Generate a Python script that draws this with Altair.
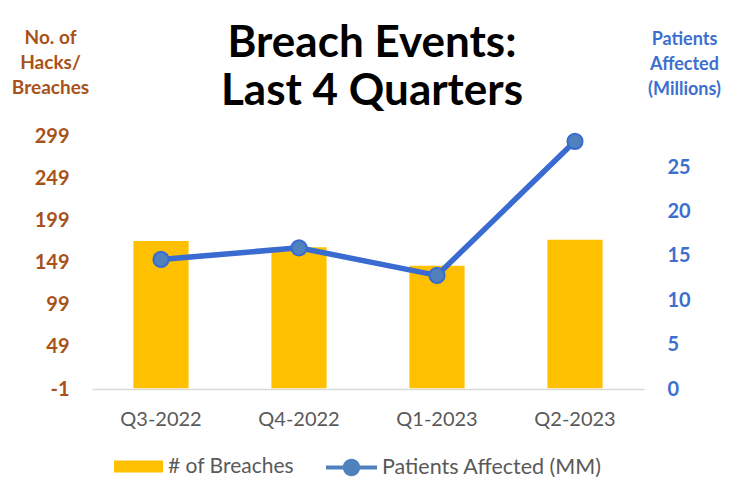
import altair as alt
import pandas as pd

quarters = ["Q3-2022", "Q4-2022", "Q1-2023", "Q2-2023"]
breaches = [174.5, 167, 145, 176]
patients_mm = [14.6, 15.9, 12.8, 27.9]

left_ticks = [-1, 49, 99, 149, 199, 249, 299]
right_ticks = [0, 5, 10, 15, 20, 25]

df = pd.DataFrame({"quarter": quarters, "breaches": breaches, "patients": patients_mm})

FONT = "Lato"
BROWN = "#A8521A"
BLUE_TXT = "#3D6FCF"
LINE_BLUE = "#3A6BD0"
POINT_FILL = "#4F81BD"
GOLD = "#FFC000"
GRAY = "#595959"

x_enc = alt.X(
    "quarter:N",
    sort=quarters,
    scale=alt.Scale(paddingInner=0, paddingOuter=0),
    axis=alt.Axis(
        title=None, labelAngle=0, labelFont=FONT, labelFontSize=20, labelColor=GRAY,
        labelPadding=20, ticks=False, domainColor="#D9D9D9", domainWidth=1.5,
    ),
)

bar_rect = "M-1,-0.245H1V0.245H-1Z"
line_sym = ("M-1,-0.08H1V0.08H-1Z "
            "M0.34,0A0.34,0.34 0 1 1 -0.34,0A0.34,0.34 0 1 1 0.34,0Z")

bars = alt.Chart(df).mark_bar(width=alt.RelativeBandSize(0.4)).encode(
    x=x_enc,
    y=alt.Y(
        "breaches:Q",
        scale=alt.Scale(domain=[-1, 299], nice=False, zero=False),
        axis=alt.Axis(
            values=left_ticks, labelExpr="'' + datum.value", grid=False, domain=False, ticks=False,
            labelFont=FONT, labelFontSize=20, labelFontWeight="bold", labelColor=BROWN,
            labelPadding=23,
            title=["No. of", "Hacks/", "Breaches"], titleAngle=0, titleAlign="center",
            titleBaseline="alphabetic", titleX=-42, titleY=-93, titleLineHeight=25,
            titleFont=FONT, titleFontSize=19, titleFontWeight="bold", titleColor=BROWN,
        ),
    ),
    fill=alt.Fill(
        "series:N",
        scale=alt.Scale(domain=["# of Breaches"], range=[GOLD]),
        legend=alt.Legend(
            title=None, orient="none", legendX=22, legendY=306,
            symbolType=bar_rect, symbolSize=2401, symbolStrokeWidth=0, symbolOpacity=1,
            labelFont=FONT, labelFontSize=21, labelColor=GRAY, labelOffset=5, labelLimit=400,
        ),
    ),
).transform_calculate(series="'# of Breaches'")

line = alt.Chart(df).mark_line(
    strokeWidth=5.5,
    point=alt.OverlayMarkDef(filled=True, fill=POINT_FILL, stroke=LINE_BLUE, strokeWidth=2, size=230, opacity=1),
).encode(
    x=x_enc,
    y=alt.Y(
        "patients:Q",
        scale=alt.Scale(domain=[0, 28.5], nice=False, zero=False),
        axis=alt.Axis(
            orient="right", values=right_ticks, grid=False, domain=False, ticks=False,
            labelFont=FONT, labelFontSize=20, labelFontWeight="bold", labelColor=BLUE_TXT,
            labelPadding=23,
            title=["Patients", "Affected", "(Millions)"], titleAngle=0, titleAlign="center",
            titleBaseline="alphabetic", titleX=40, titleY=-92, titleLineHeight=25,
            titleFont=FONT, titleFontSize=18, titleFontWeight="bold", titleColor=BLUE_TXT,
        ),
    ),
    stroke=alt.Stroke(
        "series2:N",
        scale=alt.Scale(domain=["Patients Affected (MM)"], range=[LINE_BLUE]),
        legend=alt.Legend(
            title=None, orient="none", legendX=234, legendY=306,
            symbolType=line_sym, symbolSize=2601, symbolStrokeWidth=0,
            symbolFillColor=LINE_BLUE, symbolOpacity=1,
            labelFont=FONT, labelFontSize=21.5, labelColor=GRAY, labelOffset=5, labelLimit=400,
        ),
    ),
).transform_calculate(series2="'Patients Affected (MM)'")

chart = alt.layer(bars, line).resolve_scale(y="independent").properties(
    width=552,
    height=253,
    title=alt.Title(
        ["Breach Events:", "Last 4 Quarters"], font=FONT, fontSize=44, fontWeight="bold",
        color="black", anchor="middle", frame="group", lineHeight=48, dx=4, dy=96, offset=10,
    ),
    autosize=alt.AutoSizeParams(type="none"),
    padding={"left": 84, "top": 128, "right": 89, "bottom": 90},
).configure_view(strokeWidth=0)

chart.save("out.html", embed_options={"renderer": "svg", "actions": False})
